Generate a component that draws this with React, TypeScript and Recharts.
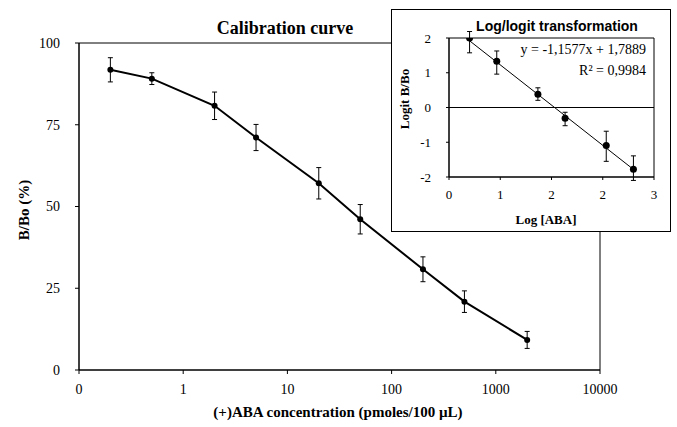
import {
  LineChart,
  ComposedChart,
  Line,
  XAxis,
  YAxis,
  ErrorBar,
  ReferenceArea,
  ReferenceLine,
} from "recharts";

// main calibration curve
const concentrations = [0.2, 0.5, 2, 5, 20, 50, 200, 500, 2000];
const bboPercent = [91.8, 89.1, 80.8, 71.1, 57.1, 46.1, 30.8, 20.9, 9.2];
const bboError = [3.7, 1.8, 4.2, 4.0, 4.8, 4.5, 3.8, 3.3, 2.6];
const xTicks = [0.1, 1, 10, 100, 1000, 10000];
const xTickLabels = ["0", "1", "10", "100", "1000", "10000"];
const yTicks = [0, 25, 50, 75, 100];

// inset log/logit
const logAba = [0.301, 0.699, 1.301, 1.699, 2.301, 2.699];
const logitBbo = [1.5, 1.0, 0.285, -0.233, -0.822, -1.334];
const logitErrLow = [0.32, 0.28, 0.13, 0.16, 0.34, 0.24];
const logitErrHigh = [0.14, 0.22, 0.14, 0.13, 0.31, 0.29];
const trendX = [0.301, 2.699];
const trendY = [1.44, -1.336];
const insetXTicks = [0, 0.75, 1.5, 2.25, 3];
const insetXLabels = ["0", "1", "2", "2", "3"];
const insetYTicks = [-1.5, -0.75, 0, 0.75, 1.5];
const insetYLabels = ["-2", "-1", "0", "1", "2"];

const SERIF = "'Liberation Serif', 'Times New Roman', serif";
const SANS = "'Liberation Sans', Arial, sans-serif";

const mainData = concentrations.map((c, i) => ({
  conc: c,
  bbo: bboPercent[i],
  err: bboError[i],
}));

const insetData = logAba.map((x, i) => ({
  x,
  y: logitBbo[i],
  err: [logitErrLow[i], logitErrHigh[i]],
}));

const trendData = trendX.map((x, i) => ({ x, t: trendY[i] }));

function label(ticks: number[], labels: string[]) {
  return (v: number) => {
    const i = ticks.findIndex((t) => Math.abs(t - v) < 1e-9);
    return i >= 0 ? labels[i] : String(v);
  };
}

function TextAt({
  x,
  y,
  children,
  size,
  bold = true,
  font = SERIF,
  rotate = false,
  align = "center",
}: {
  x: number;
  y: number;
  children: React.ReactNode;
  size: number;
  bold?: boolean;
  font?: string;
  rotate?: boolean;
  align?: "center" | "right";
}) {
  const tx = align === "right" ? "-100%" : "-50%";
  return (
    <div
      style={{
        position: "absolute",
        left: x,
        top: y,
        transform: `translate(${tx}, -50%)${rotate ? " rotate(-90deg)" : ""}`,
        fontFamily: font,
        fontSize: size,
        fontWeight: bold ? "bold" : "normal",
        whiteSpace: "nowrap",
        color: "#000",
        lineHeight: 1,
      }}
    >
      {children}
    </div>
  );
}

const axisStroke = { stroke: "#000", strokeWidth: 1 };

export default function App() {
  return (
    <div style={{ position: "absolute", left: 0, top: 0, width: 677, height: 427, background: "#fff" }}>
      <LineChart
        width={677}
        height={427}
        data={mainData}
        margin={{ top: 43, right: 77, bottom: 0, left: 0 }}
      >
        <XAxis
          dataKey="conc"
          type="number"
          scale="log"
          domain={[0.1, 10000]}
          ticks={xTicks}
          interval={0}
          allowDataOverflow
          tickFormatter={label(xTicks, xTickLabels)}
          height={57}
          tickSize={4}
          tickMargin={10}
          tick={{ fill: "#000", fontSize: 14, fontFamily: SERIF }}
          axisLine={axisStroke}
          tickLine={axisStroke}
        />
        <YAxis
          type="number"
          domain={[0, 100]}
          ticks={yTicks}
          interval={0}
          width={79}
          tickSize={4}
          tickMargin={15}
          tick={{ fill: "#000", fontSize: 14, fontFamily: SERIF }}
          axisLine={axisStroke}
          tickLine={axisStroke}
        />
        <ReferenceArea x1={0.1} x2={10000} y1={0} y2={100} fill="none" stroke="#000" strokeWidth={1} />
        <Line
          dataKey="bbo"
          type="linear"
          stroke="#000"
          strokeWidth={2}
          dot={{ r: 3, fill: "#000", stroke: "#000", strokeWidth: 0 }}
          isAnimationActive={false}
        >
          <ErrorBar dataKey="err" direction="y" width={2.5} stroke="#000" strokeWidth={1} />
        </Line>
      </LineChart>

      <TextAt x={285} y={28} size={18}>Calibration curve</TextAt>
      <TextAt x={24} y={210} size={15} rotate>B/Bo (%)</TextAt>
      <TextAt x={338} y={412} size={15}>(+)ABA concentration (pmoles/100 µL)</TextAt>

      <div
        style={{
          position: "absolute",
          left: 391,
          top: 9,
          width: 280,
          height: 223,
          boxSizing: "border-box",
          border: "1px solid #000",
          background: "#fff",
        }}
      >
        <ComposedChart
          width={278}
          height={221}
          margin={{ top: 28, right: 16, bottom: 0, left: 0 }}
        >
          <XAxis
            dataKey="x"
            type="number"
            domain={[0, 3]}
            ticks={insetXTicks}
            interval={0}
            allowDataOverflow
            tickFormatter={label(insetXTicks, insetXLabels)}
            height={54}
            tickSize={3}
            tickMargin={10}
            tick={{ fill: "#000", fontSize: 13, fontFamily: SERIF }}
            axisLine={axisStroke}
            tickLine={axisStroke}
          />
          <YAxis
            type="number"
            domain={[-1.5, 1.5]}
            ticks={insetYTicks}
            interval={0}
            allowDataOverflow
            tickFormatter={label(insetYTicks, insetYLabels)}
            width={57}
            tickSize={3}
            tickMargin={15}
            tick={{ fill: "#000", fontSize: 13, fontFamily: SERIF }}
            axisLine={axisStroke}
            tickLine={axisStroke}
          />
          <ReferenceArea x1={0} x2={3} y1={-1.5} y2={1.5} fill="none" stroke="#000" strokeWidth={1} />
          <ReferenceLine y={0} stroke="#000" strokeWidth={1} />
          <Line
            data={trendData}
            dataKey="t"
            type="linear"
            stroke="#000"
            strokeWidth={1}
            dot={false}
            isAnimationActive={false}
          />
          <Line
            data={insetData}
            dataKey="y"
            stroke="none"
            dot={{ r: 3.5, fill: "#000", stroke: "#000", strokeWidth: 0 }}
            isAnimationActive={false}
          >
            <ErrorBar dataKey="err" direction="y" width={2.5} stroke="#000" strokeWidth={1} />
          </Line>
        </ComposedChart>
      </div>

      <TextAt x={557} y={26} size={14} font={SANS}>Log/logit transformation</TextAt>
      <TextAt x={646} y={50} size={14} bold={false} align="right">y = -1,1577x + 1,7889</TextAt>
      <TextAt x={646} y={71} size={14} bold={false} align="right">R² = 0,9984</TextAt>
      <TextAt x={404} y={99} size={13} rotate>Logit B/Bo</TextAt>
      <TextAt x={546} y={219} size={13}>Log [ABA]</TextAt>
    </div>
  );
}
